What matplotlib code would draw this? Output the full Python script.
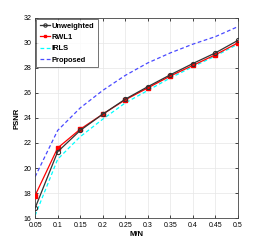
import matplotlib
matplotlib.use("Agg")
import matplotlib.pyplot as plt
import numpy as np

ratio = [0.05, 0.1, 0.15, 0.2, 0.25, 0.3, 0.35, 0.4, 0.45, 0.5]
unweighted = [16.8, 21.3, 23.0, 24.3, 25.5, 26.5, 27.45, 28.35, 29.2, 30.2]
rwl1 = [17.8, 21.6, 23.1, 24.3, 25.45, 26.4, 27.35, 28.2, 29.05, 30.0]
irls = [16.2, 20.7, 22.5, 23.9, 25.2, 26.2, 27.2, 28.1, 28.95, 29.9]
proposed = [19.3, 23.0, 24.8, 26.2, 27.4, 28.4, 29.2, 29.9, 30.5, 31.3]
xticks = [0.05, 0.1, 0.15, 0.2, 0.25, 0.3, 0.35, 0.4, 0.45, 0.5]
xtick_labels = ["0.05", "0.1", "0.15", "0.2", "0.25", "0.3", "0.35", "0.4", "0.45", "0.5"]
yticks = [16, 18, 20, 22, 24, 26, 28, 30, 32]

plt.rcParams['font.family'] = ['Liberation Sans', 'DejaVu Sans']
fig = plt.figure(figsize=(2.62, 2.45), dpi=100)
ax = fig.add_axes([0.134, 0.110, 0.774, 0.817])

ax.plot(ratio, unweighted, color='#333333', lw=0.9, marker='o', ms=3,
        mfc='none', mew=0.8, label='Unweighted', zorder=4)
ax.plot(ratio, rwl1, color='red', lw=0.9, marker='s', ms=2.5,
        mec='red', mfc='red', label='RWL1', zorder=3)
ax.plot(ratio, irls, color='cyan', lw=0.9, ls='--', dashes=(3, 2),
        label='IRLS', zorder=2)
ax.plot(ratio, proposed, color='#4a4aff', lw=0.9, ls='--', dashes=(3, 2),
        label='Proposed', zorder=2)

ax.set_xlim(0.05, 0.5)
ax.set_ylim(16, 32)
ax.set_xticks(xticks)
ax.set_xticklabels(xtick_labels)
ax.set_yticks(yticks)
ax.tick_params(labelsize=5, length=2, width=0.5, direction='in',
               top=True, right=True, pad=2.5)
ax.grid(True, color='#e6e6e6', lw=0.5)
ax.set_axisbelow(True)
for s in ax.spines.values():
    s.set_linewidth(0.6)
    s.set_color('#444444')

ax.set_xlabel('M/N', fontsize=5.5, fontweight='bold', labelpad=2)
ax.set_ylabel('PSNR', fontsize=5.5, fontweight='bold', labelpad=2)

leg = ax.legend(loc='upper left', frameon=True, fancybox=False,
                borderaxespad=0.15, handlelength=1.4, handletextpad=0.25,
                borderpad=0.45, labelspacing=0.55, markerscale=0.8,
                prop={'family': ['Liberation Sans', 'DejaVu Sans'],
                      'weight': 'bold', 'size': 5.4})
leg.get_frame().set_edgecolor('#333333')
leg.get_frame().set_linewidth(0.6)

plt.savefig("out.png", dpi=100)
